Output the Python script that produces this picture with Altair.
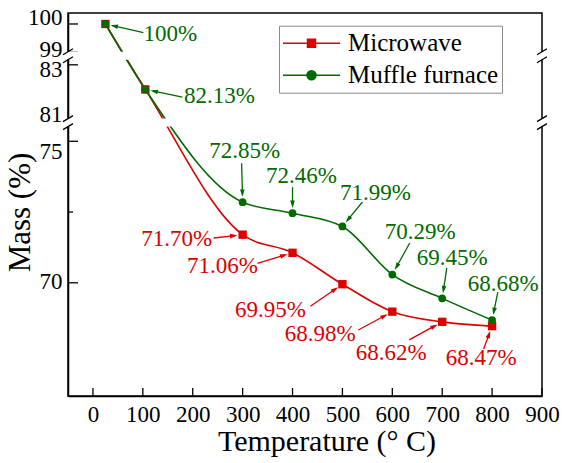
import math
import altair as alt
import pandas as pd

# ---------------- values ----------------
temps = [25, 105, 300, 400, 500, 600, 700, 800]
microwave = [100.0, 82.13, 71.70, 71.06, 69.95, 68.98, 68.62, 68.47]
muffle = [100.0, 82.13, 72.85, 72.46, 71.99, 70.29, 69.45, 68.68]
series_names = ["Microwave", "Muffle furnace"]
series_colors = ["#dc0000", "#006b00"]
x_ticks = [0, 100, 200, 300, 400, 500, 600, 700, 800, 900]
y_ticks = [70, 75, 81, 83, 99, 100]
y_label_shift = [-1, 10, -7, 5, -3, -6]   # px, how the reference nudges each y label
y_minor_ticks = [72.5]

# annotated points (index into temps); label centre and arrow tail offsets in px
mw_annot = [2, 3, 4, 5, 6, 7]
mw_label_dx = [-66, -70, -72, -72, -51, -11]
mw_label_dy = [4, 13, 26, 22, 31, 32]
mw_tail_dx = [-29, -35, -32, -34, -33, -8.5]
mw_tail_dy = [3.3, 10.5, 22, 18.3, 18, 23]

mf_annot = [0, 1, 2, 3, 4, 5, 6, 7]
mf_label_dx = [65, 74, 2, 9, 33, 28, 10, 11]
mf_label_dy = [10, 7, -51, -37, -33.5, -42.6, -40.4, -36.2]
mf_tail_dx = [38, 37, -1, 0, 20, 17.4, 4.6, 5.7]
mf_tail_dy = [8.7, 7.8, -39, -26, -24.5, -31.6, -30.4, -28]

# ---------------- broken y axis geometry ----------------
W, H = 474, 383
X_DOMAIN = [-50, 900]
XU = (X_DOMAIN[1] - X_DOMAIN[0]) / W      # data units per px on x
K = 28.3                                  # px per mass-% unit
GAP = 8                                   # px gap of each axis break
SEGMENTS = [(66.0, 75.52), (81.1, 83.18), (99.02, 100.4)]

seg_base = []
acc = 0.0
for i, (lo, hi) in enumerate(SEGMENTS):
    if i > 0:
        acc += GAP
    seg_base.append(acc)
    acc += (hi - lo) * K


def seg_index(m):
    for i in range(len(SEGMENTS) - 1):
        if m < (SEGMENTS[i][1] + SEGMENTS[i + 1][0]) / 2:
            return i
    return len(SEGMENTS) - 1


def to_axis(m):
    i = seg_index(m)
    return seg_base[i] + (m - SEGMENTS[i][0]) * K


def fmt(v):
    return f"{v:.0f}%" if float(v).is_integer() else f"{v:.2f}%"


# ---------------- tables ----------------
pts = pd.DataFrame(
    [{"series": series_names[0], "x": t, "m": v, "p": to_axis(v)} for t, v in zip(temps, microwave)]
    + [{"series": series_names[1], "x": t, "m": v, "p": to_axis(v)} for t, v in zip(temps, muffle)]
)

R_MARK = 5.5
HEAD_HALF = 3.5
ann_rows = []
for sname, vals, idx, ldx, ldy, tdx, tdy in [
    (series_names[0], microwave, mw_annot, mw_label_dx, mw_label_dy, mw_tail_dx, mw_tail_dy),
    (series_names[1], muffle, mf_annot, mf_label_dx, mf_label_dy, mf_tail_dx, mf_tail_dy),
]:
    for k, i in enumerate(idx):
        x0, p0 = temps[i], to_axis(vals[i])
        L = math.hypot(tdx[k], tdy[k])
        ux, uy = tdx[k] / L, tdy[k] / L
        tip_x, tip_y = ux * R_MARK, uy * R_MARK
        ang = math.degrees(math.atan2(-ux, uy)) % 360
        ann_rows.append({
            "series": sname,
            "text": fmt(vals[i]),
            "x": x0 + ldx[k] * XU, "p": p0 - ldy[k],
            "tx": x0 + tdx[k] * XU, "tp": p0 - tdy[k],
            "ex": x0 + (tip_x + ux * 2) * XU, "ep": p0 - (tip_y + uy * 2),
            "hx": x0 + (tip_x + ux * HEAD_HALF) * XU, "hp": p0 - (tip_y + uy * HEAD_HALF),
            "angle": ang,
        })
ann = pd.DataFrame(ann_rows)

# break bands and slashes
bands, slashes = [], []
for i in range(len(SEGMENTS) - 1):
    p_lo = seg_base[i] + (SEGMENTS[i][1] - SEGMENTS[i][0]) * K
    p_hi = seg_base[i + 1]
    bands.append({"x": X_DOMAIN[0] - 3 * XU, "x2": X_DOMAIN[1] + 3 * XU, "p": p_lo, "p2": p_hi})
    for pe in (p_lo, p_hi):
        for xe in X_DOMAIN:
            slashes.append({"x": xe - 5 * XU, "x2": xe + 5 * XU, "p": pe - 3, "p2": pe + 3})
bands = pd.DataFrame(bands)
slashes = pd.DataFrame(slashes)

ticks = pd.DataFrame(
    [{"x": v, "x2": v, "p": 0, "p2": 8} for v in x_ticks]
    + [{"x": X_DOMAIN[0], "x2": X_DOMAIN[0] + 10 * XU, "p": to_axis(v), "p2": to_axis(v)} for v in y_ticks]
    + [{"x": X_DOMAIN[0], "x2": X_DOMAIN[0] + 5 * XU, "p": to_axis(v), "p2": to_axis(v)} for v in y_minor_ticks]
)

legend_df = pd.DataFrame({"series": series_names})

# ---------------- scales & axes ----------------
FONT = "Liberation Serif"
xscale = alt.Scale(domain=X_DOMAIN, nice=False, zero=False)
yscale = alt.Scale(domain=[0, H], nice=False, zero=False)

label_expr = "''"
for v in reversed(y_ticks):
    label_expr = f"abs(datum.value - {to_axis(v):.3f}) < 0.5 ? '{v}' : {label_expr}"
shift_conditions = [
    {"test": f"abs(datum.value - {to_axis(v):.3f}) < 0.5", "value": s}
    for v, s in zip(y_ticks, y_label_shift)
]

xaxis = alt.Axis(values=x_ticks, format="d", ticks=False, tickSize=0, grid=False,
                 labelFont=FONT, labelFontSize=23, labelColor="black",
                 labelBaseline="alphabetic", labelPadding=25, labelOverlap=False,
                 labelFlush=False,
                 domainColor="black", domainWidth=1.5,
                 title="Temperature (° C)", titleFont=FONT, titleFontSize=30,
                 titleFontWeight="normal", titleColor="black",
                 titleX=258.5, titleY=54, titleBaseline="alphabetic")
yaxis = alt.Axis(values=[to_axis(v) for v in y_ticks], labelExpr=label_expr,
                 ticks=False, tickSize=0, grid=False, labelOverlap=False,
                 labelFlush=False,
                 labelOffset={"condition": shift_conditions, "value": 0},
                 labelFont=FONT, labelFontSize=23, labelColor="black",
                 labelBaseline="middle", labelPadding=6,
                 domainColor="black", domainWidth=1.5,
                 title="Mass (%)", titleFont=FONT, titleFontSize=31,
                 titleFontWeight="normal", titleColor="black",
                 titleX=-38.5, titleY=199, titleAngle=270, titleBaseline="alphabetic")


def X(f="x"):
    return alt.X(f"{f}:Q", scale=xscale, axis=xaxis)


def Y(f="p"):
    return alt.Y(f"{f}:Q", scale=yscale, axis=yaxis)


cscale = alt.Scale(domain=series_names, range=series_colors)

layers = []
# lines (red first, green on top)
for s, col in zip(series_names, series_colors):
    layers.append(
        alt.Chart(pts).transform_filter(alt.datum.series == s)
        .mark_line(interpolate="monotone", strokeWidth=1.6, color=col)
        .encode(x=X(), y=Y(), order="x:Q")
    )
layers.append(
    alt.Chart(pts).transform_filter(alt.datum.series == series_names[0])
    .mark_point(shape="square", filled=True, size=70, opacity=1, color=series_colors[0])
    .encode(x=X(), y=Y())
)
layers.append(
    alt.Chart(pts).transform_filter(alt.datum.series == series_names[1])
    .mark_point(shape="circle", filled=True, size=60, opacity=1, color=series_colors[1])
    .encode(x=X(), y=Y())
)
# ticks (inward), then break bands covering them, then slashes
layers.append(
    alt.Chart(ticks).mark_rule(color="black", strokeWidth=1.3)
    .encode(x=X(), x2="x2:Q", y=Y(), y2="p2:Q")
)
layers.append(
    alt.Chart(bands).mark_rect(color="white", opacity=1)
    .encode(x=X(), x2="x2:Q", y=Y(), y2="p2:Q")
)
layers.append(
    alt.Chart(slashes).mark_rule(color="black", strokeWidth=1.3)
    .encode(x=X(), x2="x2:Q", y=Y(), y2="p2:Q")
)
# annotation arrows, heads, labels (one set of layers per series, constant colour)
for s, col in zip(series_names, series_colors):
    a = alt.Chart(ann).transform_filter(alt.datum.series == s)
    layers.append(
        a.mark_rule(strokeWidth=1.3, color=col)
        .encode(x=X("tx"), x2="ex:Q", y=Y("tp"), y2="ep:Q")
    )
    layers.append(
        a.mark_point(shape="M0,-1L0.62,1L-0.62,1Z", filled=True, size=55, opacity=1, color=col)
        .encode(x=X("hx"), y=Y("hp"), angle=alt.Angle("angle:Q", scale=None))
    )
    layers.append(
        a.mark_text(font=FONT, fontSize=23, align="center", baseline="middle", color=col)
        .encode(x=X(), y=Y(), text="text:N")
    )

# legend (symbols: line with marker); the layer draws no marks itself
sq_path = "M-1,0H1M-0.14,-0.14H0.14V0.14H-0.14Z"
ci_path = "M-1,0H1M-0.16,0A0.16,0.16,0,1,0,0.16,0A0.16,0.16,0,1,0,-0.16,0Z"
leg = alt.Legend(title=None, orient="none", legendX=211, legendY=12.7, padding=3,
                 strokeColor="#8a8a8a", fillColor="white",
                 symbolSize=3249, symbolStrokeWidth=1.5, symbolOpacity=1,
                 labelFont=FONT, labelFontSize=25, labelColor="black",
                 labelOffset=7, clipHeight=29, rowPadding=3, labelLimit=400)
layers.append(
    alt.Chart(legend_df).transform_filter("datum.series == 'none'")
    .mark_point(filled=True, strokeWidth=1.5)
    .encode(x=X(), y=Y(),
            shape=alt.Shape("series:N", scale=alt.Scale(domain=series_names, range=[sq_path, ci_path]), legend=leg),
            fill=alt.Fill("series:N", scale=cscale, legend=leg),
            stroke=alt.Stroke("series:N", scale=cscale, legend=leg))
)

chart = (
    alt.layer(*layers)
    .properties(width=W, height=H, autosize=alt.AutoSizeParams(type="none"),
                padding={"left": 68, "top": 13, "right": 20, "bottom": 67},
                background="white")
    .configure_view(stroke="black", strokeWidth=1.5)
)

chart.save("out.html", embed_options={"renderer": "svg", "actions": False})
